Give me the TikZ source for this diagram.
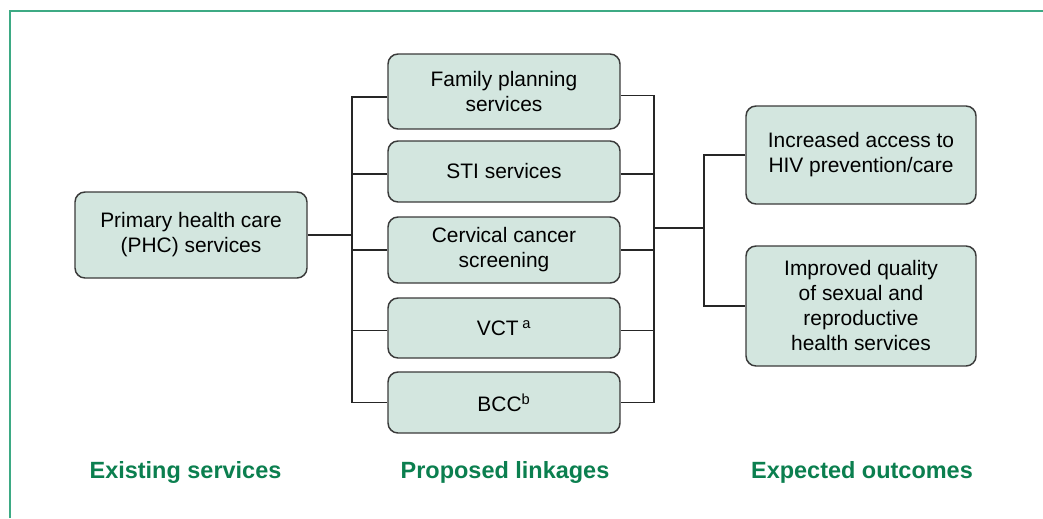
\documentclass[tikz,border=0pt]{standalone}
\usepackage{fontspec}
\setmainfont{Liberation Sans}
\usepackage{xcolor}
\usetikzlibrary{calc}
\usetikzlibrary{positioning}

\definecolor{boxfill}{HTML}{D3E6DF}
\definecolor{boxline}{HTML}{3A3A3A}
\definecolor{headgreen}{HTML}{0B7F4F}
\definecolor{framegreen}{HTML}{3DAA84}

\tikzset{
  linkbox/.style={draw=boxline, fill=boxfill, rounded corners=7.5pt, line width=1.1pt,
    align=center, inner sep=0pt, font=\fontsize{15.7}{18.75}\selectfont},
  wire/.style={draw=black!85, line width=1.05pt},
  heading/.style={anchor=base, text=headgreen, font=\fontsize{17.6}{20}\selectfont\bfseries}
}

\begin{document}
\begin{tikzpicture}[x=0.75pt, y=-0.75pt]
\useasboundingbox (0,0) rectangle (1043,518);
\draw[framegreen, line width=1.5pt] (9.5,518) -- (9.5,11) -- (1043,11);

\node[linkbox, minimum width=174pt, minimum height=64.5pt] (phc) at (191,235) {Primary health care\\(PHC) services};

\node[linkbox, minimum width=174pt, minimum height=56.25pt] (fp) at (504,91.5) {Family planning\\services};
\node[linkbox, minimum width=174pt, minimum height=45.75pt] (sti) at (504,171.5) {STI services};
\node[linkbox, minimum width=174pt, minimum height=49.5pt] (cc) at (504,250) {Cervical cancer\\screening};
\node[linkbox, minimum width=174pt, minimum height=45pt] (vct) at (504,328) {VCT\,\textsuperscript{a}};
\node[linkbox, minimum width=174pt, minimum height=45.75pt] (bcc) at (504,402.5) {BCC\textsuperscript{b}};

\node[linkbox, minimum width=172.5pt, minimum height=73.5pt] (inc) at (861,155) {Increased access to\\HIV prevention/care};
\node[linkbox, minimum width=172.5pt, minimum height=90pt] (imp) at (861,306) {Improved quality\\of sexual and\\reproductive\\health services};

\coordinate (lbus) at (352,235);
\coordinate (rbus) at (654,228);
\coordinate (obus) at (704,228);

\draw[wire] (phc.east) -- (lbus);
\draw[wire] ([yshift=-4pt]fp.west) -| (lbus) |- (bcc.west);
\draw[wire] ([yshift=-2pt]sti.west) -- ([yshift=-2pt]sti.west -| lbus);
\draw[wire] (cc.west) -- (cc.west -| lbus);
\draw[wire] ([yshift=-2pt]vct.west) -- ([yshift=-2pt]vct.west -| lbus);

\draw[wire] ([yshift=-3pt]fp.east) -| (rbus) |- (bcc.east);
\draw[wire] ([yshift=-2pt]sti.east) -- ([yshift=-2pt]sti.east -| rbus);
\draw[wire] (cc.east) -- (cc.east -| rbus);
\draw[wire] ([yshift=-2pt]vct.east) -- ([yshift=-2pt]vct.east -| rbus);

\draw[wire] (rbus) -- (obus);
\draw[wire] (inc.west) -| (obus) |- (imp.west);

\node[heading] (existing) at (185.5,478) {Existing services};
\node[heading] (proposed) at (505,478) {Proposed linkages};
\node[heading] (expected) at (862,478) {Expected outcomes};
\end{tikzpicture}
\end{document}
